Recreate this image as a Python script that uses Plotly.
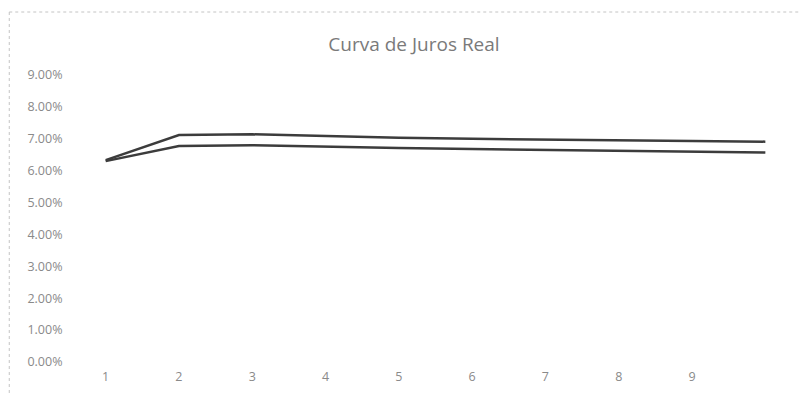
import plotly.graph_objects as go

categories = ["1", "2", "3", "4", "5", "6", "7", "8", "9", "10"]
tick_labels = ["1", "2", "3", "4", "5", "6", "7", "8", "9", ""]
serie_a = [0.0633, 0.0712, 0.0714, 0.0708, 0.0703, 0.0700, 0.0697, 0.0695, 0.0693, 0.0691]
serie_b = [0.0630, 0.0677, 0.0680, 0.0675, 0.0671, 0.0668, 0.0665, 0.0662, 0.0660, 0.0657]
y_ticks = [0.0, 0.01, 0.02, 0.03, 0.04, 0.05, 0.06, 0.07, 0.08, 0.09]

fig = go.Figure()
for s in (serie_a, serie_b):
    fig.add_trace(go.Scatter(x=categories, y=s, mode="lines",
                             line=dict(color="#3c3c3c", width=2.5),
                             showlegend=False))

H = 389
border = dict(color="#c4c4c4", width=1, dash="dot")
fig.update_layout(
    width=801, height=H,
    margin=dict(l=61, r=7, t=67, b=35),
    paper_bgcolor="white", plot_bgcolor="white",
    font=dict(family="Open Sans, sans-serif", color="#8a8a8a", size=12.5),
    title=dict(text="Curva de Juros Real", x=0.4707, xref="paper", xanchor="center",
               y=1 - 36 / H, yanchor="middle",
               font=dict(size=19, color="#7a7a7a", family="Open Sans, sans-serif")),
    xaxis=dict(type="category", range=[-0.5, 9.5], tickvals=categories, ticktext=tick_labels,
               showgrid=False, zeroline=False, showline=False,
               ticks="outside", ticklen=3, tickcolor="rgba(0,0,0,0)"),
    yaxis=dict(range=[0, 0.09], tickvals=y_ticks, tickformat=".2%",
               showgrid=False, zeroline=False, showline=False,
               ticks="outside", ticklen=3, tickcolor="rgba(0,0,0,0)"),
    shapes=[
        dict(type="line", xref="paper", yref="paper",
             x0=-0.0815, x1=1.02, y0=1.2195, y1=1.2195, line=border),
        dict(type="line", xref="paper", yref="paper",
             x0=-0.0815, x1=-0.0815, y0=1.2195, y1=-0.108, line=border),
    ],
)

fig.write_html("out.html")
